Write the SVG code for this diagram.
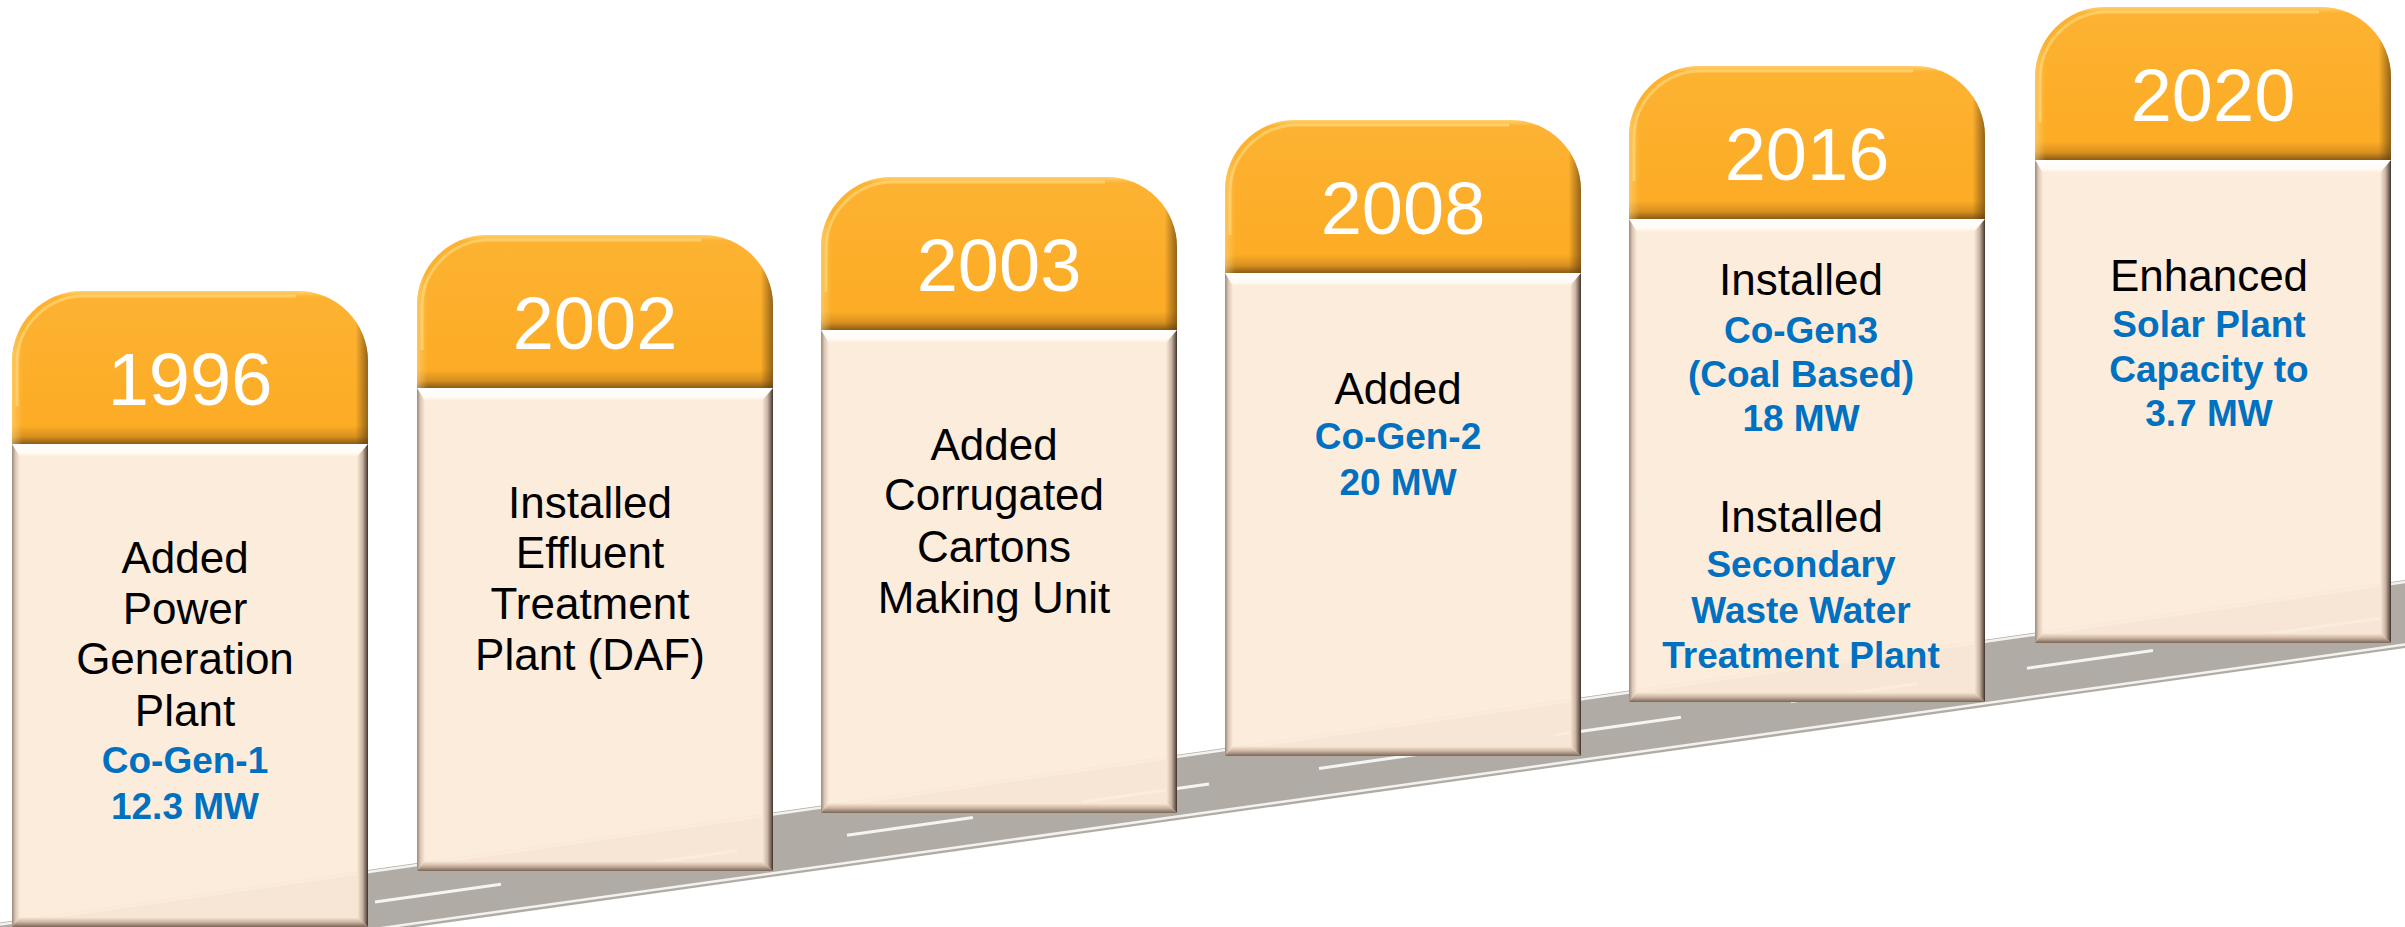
<svg xmlns="http://www.w3.org/2000/svg" width="2405" height="927" viewBox="0 0 2405 927">
<defs>
<style>
.yr{font-family:"Liberation Sans",Arial,sans-serif;font-size:74px;fill:#ffffff;text-anchor:middle}
.bk{font-family:"Liberation Sans",Arial,sans-serif;font-size:44px;fill:#000000;text-anchor:middle}
.bl{font-family:"Liberation Sans",Arial,sans-serif;font-size:37px;font-weight:bold;fill:#0070C0;text-anchor:middle}
.dash{stroke:#F6F4F0;stroke-width:3;fill:none}
</style>
<linearGradient id="gOr" x1="0" y1="0" x2="0" y2="1">
<stop offset="0" stop-color="#FFD06C"/>
<stop offset="0.04" stop-color="#FDB232"/>
<stop offset="0.88" stop-color="#FCAC25"/>
<stop offset="0.95" stop-color="#D99020"/>
<stop offset="1" stop-color="#8A5C16"/>
</linearGradient>
<linearGradient id="gOrH" x1="0" y1="0" x2="1" y2="0">
<stop offset="0" stop-color="#FFE39A" stop-opacity="0.45"/>
<stop offset="0.03" stop-color="#FFE39A" stop-opacity="0"/>
<stop offset="0.965" stop-color="#5A3A10" stop-opacity="0"/>
<stop offset="1" stop-color="#5A3A10" stop-opacity="0.65"/>
</linearGradient>
<linearGradient id="gTop" x1="0" y1="0" x2="0" y2="1">
<stop offset="0" stop-color="#FFFFFF"/>
<stop offset="0.7" stop-color="#FFFBF4"/>
<stop offset="1" stop-color="#FCEBD9"/>
</linearGradient>
<linearGradient id="gLeft" x1="0" y1="0" x2="1" y2="0">
<stop offset="0" stop-color="#9C897B"/>
<stop offset="0.45" stop-color="#DCC9B8"/>
<stop offset="1" stop-color="#FCEBD9"/>
</linearGradient>
<linearGradient id="gRight" x1="0" y1="0" x2="1" y2="0">
<stop offset="0" stop-color="#FCEBD9"/>
<stop offset="0.5" stop-color="#C9B3A2"/>
<stop offset="0.85" stop-color="#6E5D52"/>
<stop offset="1" stop-color="#3A302A"/>
</linearGradient>
<linearGradient id="gBot" x1="0" y1="0" x2="0" y2="1">
<stop offset="0" stop-color="#FCEBD9"/>
<stop offset="0.5" stop-color="#CDB5A2"/>
<stop offset="1" stop-color="#7A6557"/>
</linearGradient>
<g id="card">
<rect x="0" y="153" width="356" height="483" fill="#FCEBD9" fill-opacity="0.93"/>
<polygon points="0,153 356,153 344,166 8,166" fill="url(#gTop)"/>
<polygon points="0,153 8,166 8,626 0,636" fill="url(#gLeft)"/>
<polygon points="356,153 356,636 345,626 345,166" fill="url(#gRight)"/>
<polygon points="0,636 8,626 345,626 356,636" fill="url(#gBot)"/>
<path d="M0,153 L0,70 A70,70 0 0 1 70,0 L286,0 A70,70 0 0 1 356,70 L356,153 Z" fill="url(#gOr)"/>
<path d="M0,153 L0,70 A70,70 0 0 1 70,0 L286,0 A70,70 0 0 1 356,70 L356,153 Z" fill="url(#gOrH)"/>
<path d="M5,115 L5,72 A67,67 0 0 1 72,5 L284,5" fill="none" stroke="#FFE08A" stroke-opacity="0.55" stroke-width="3"/>
</g>
</defs>
<rect width="2405" height="927" fill="#ffffff"/>
<g id="road">
<polygon points="0,922.5 2405,580 2405,648 0,985.2" fill="#B0ACA5"/>
<line x1="0" y1="924.5" x2="2405" y2="582" stroke="#F4F2EE" stroke-width="2.5"/>
<line x1="0" y1="981.5" x2="2405" y2="644.5" stroke="#F4F2EE" stroke-width="2.5"/>
</g>
<g id="connectors">
<line class="dash" x1="375" y1="902" x2="501" y2="884.2"/>
<line class="dash" x1="611" y1="868.6" x2="737" y2="850.8"/>
<line class="dash" x1="847" y1="835.2" x2="973" y2="817.4"/>
<line class="dash" x1="1083" y1="801.8" x2="1209" y2="784"/>
<line class="dash" x1="1319" y1="768.4" x2="1445" y2="750.6"/>
<line class="dash" x1="1555" y1="735" x2="1681" y2="717.2"/>
<line class="dash" x1="1791" y1="701.6" x2="1917" y2="683.8"/>
<line class="dash" x1="2027" y1="668.2" x2="2153" y2="650.4"/>
<line class="dash" x1="2263" y1="634.8" x2="2389" y2="617"/>
</g>
<g id="node-1996" transform="translate(12,291)">
<use href="#card"/>
<text class="yr" x="178" y="114">1996</text>
<text class="bk" x="173" y="282">Added</text>
<text class="bk" x="173" y="333">Power</text>
<text class="bk" x="173" y="383">Generation</text>
<text class="bk" x="173" y="435">Plant</text>
<text class="bl" x="173" y="482">Co-Gen-1</text>
<text class="bl" x="173" y="528">12.3 MW</text>
</g>
<g id="node-2002" transform="translate(417,235)">
<use href="#card"/>
<text class="yr" x="178" y="114">2002</text>
<text class="bk" x="173" y="283">Installed</text>
<text class="bk" x="173" y="333">Effluent</text>
<text class="bk" x="173" y="384">Treatment</text>
<text class="bk" x="173" y="435">Plant (DAF)</text>
</g>
<g id="node-2003" transform="translate(821,177)">
<use href="#card"/>
<text class="yr" x="178" y="114">2003</text>
<text class="bk" x="173" y="283">Added</text>
<text class="bk" x="173" y="333">Corrugated</text>
<text class="bk" x="173" y="385">Cartons</text>
<text class="bk" x="173" y="436">Making Unit</text>
</g>
<g id="node-2008" transform="translate(1225,120)">
<use href="#card"/>
<text class="yr" x="178" y="114">2008</text>
<text class="bk" x="173" y="284">Added</text>
<text class="bl" x="173" y="329">Co-Gen-2</text>
<text class="bl" x="173" y="375">20 MW</text>
</g>
<g id="node-2016" transform="translate(1629,66)">
<use href="#card"/>
<text class="yr" x="178" y="114">2016</text>
<text class="bk" x="172" y="229">Installed</text>
<text class="bl" x="172" y="277">Co-Gen3</text>
<text class="bl" x="172" y="321">(Coal Based)</text>
<text class="bl" x="172" y="365">18 MW</text>
<text class="bk" x="172" y="466">Installed</text>
<text class="bl" x="172" y="511">Secondary</text>
<text class="bl" x="172" y="557">Waste Water</text>
<text class="bl" x="172" y="602">Treatment Plant</text>
</g>
<g id="node-2020" transform="translate(2035,7)">
<use href="#card"/>
<text class="yr" x="178" y="114">2020</text>
<text class="bk" x="174" y="284">Enhanced</text>
<text class="bl" x="174" y="330">Solar Plant</text>
<text class="bl" x="174" y="375">Capacity to</text>
<text class="bl" x="174" y="419">3.7 MW</text>
</g>
</svg>
